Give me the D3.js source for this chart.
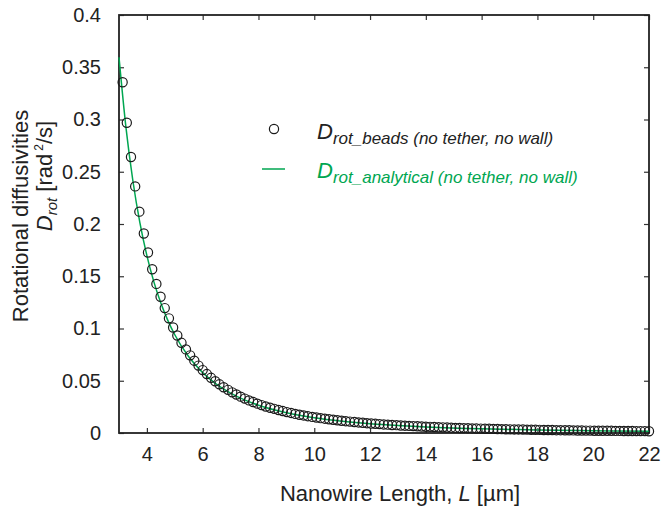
<!DOCTYPE html>
<html>
<head>
<meta charset="utf-8">
<script src="https://cdn.jsdelivr.net/npm/d3@7"></script>
<style>
body { margin: 0; background: #fff; }
text { font-family: "Liberation Sans", Arial, Helvetica, sans-serif; fill: #222; }
</style>
</head>
<body>
<script>
// bead model: nanowire length (um) and rotational diffusivity (rad^2/s)
const beadL = [
    3.13, 3.28, 3.43, 3.58, 3.73, 3.89, 4.04, 4.19, 4.34, 4.49,
    4.64, 4.79, 4.94, 5.09, 5.24, 5.40, 5.55, 5.70, 5.85, 6.00,
    6.15, 6.30, 6.45, 6.60, 6.75, 6.91, 7.06, 7.21, 7.36, 7.51,
    7.66, 7.81, 7.96, 8.11, 8.26, 8.42, 8.57, 8.72, 8.87, 9.02,
    9.17, 9.32, 9.47, 9.62, 9.77, 9.93, 10.08, 10.23, 10.38, 10.53,
    10.68, 10.83, 10.98, 11.13, 11.28, 11.44, 11.59, 11.74, 11.89, 12.04,
    12.19, 12.34, 12.49, 12.64, 12.79, 12.95, 13.10, 13.25, 13.40, 13.55,
    13.70, 13.85, 14.00, 14.15, 14.30, 14.46, 14.61, 14.76, 14.91, 15.06,
    15.21, 15.36, 15.51, 15.66, 15.81, 15.97, 16.12, 16.27, 16.42, 16.57,
    16.72, 16.87, 17.02, 17.17, 17.32, 17.48, 17.63, 17.78, 17.93, 18.08,
    18.23, 18.38, 18.53, 18.68, 18.83, 18.99, 19.14, 19.29, 19.44, 19.59,
    19.74, 19.89, 20.04, 20.19, 20.34, 20.50, 20.65, 20.80, 20.95, 21.10,
    21.25, 21.40, 21.55, 21.70, 21.85, 22.00
];
const beadD = [
    0.3356, 0.2969, 0.2641, 0.2360, 0.2118, 0.1909, 0.1727, 0.1567, 0.1427, 0.1304,
    0.1195, 0.1097, 0.1010, 0.0933, 0.0863, 0.0800, 0.0743, 0.0692, 0.0645, 0.0602,
    0.0564, 0.0528, 0.0495, 0.0466, 0.0438, 0.0413, 0.0389, 0.0368, 0.0348, 0.0329,
    0.0312, 0.0296, 0.0281, 0.0267, 0.0254, 0.0242, 0.0231, 0.0220, 0.0210, 0.0200,
    0.0192, 0.0183, 0.0175, 0.0168, 0.0161, 0.0154, 0.0148, 0.0142, 0.0137, 0.0132,
    0.0127, 0.0122, 0.0117, 0.0113, 0.0109, 0.0105, 0.0101, 0.0098, 0.0094, 0.0091,
    0.0088, 0.0085, 0.0082, 0.0080, 0.0077, 0.0075, 0.0072, 0.0070, 0.0068, 0.0066,
    0.0064, 0.0062, 0.0060, 0.0059, 0.0057, 0.0055, 0.0054, 0.0052, 0.0051, 0.0049,
    0.0048, 0.0047, 0.0046, 0.0044, 0.0043, 0.0042, 0.0041, 0.0040, 0.0039, 0.0038,
    0.0037, 0.0036, 0.0035, 0.0034, 0.0034, 0.0033, 0.0032, 0.0031, 0.0031, 0.0030,
    0.0029, 0.0029, 0.0028, 0.0027, 0.0027, 0.0026, 0.0026, 0.0025, 0.0024, 0.0024,
    0.0023, 0.0023, 0.0022, 0.0022, 0.0022, 0.0021, 0.0021, 0.0020, 0.0020, 0.0019,
    0.0019, 0.0019, 0.0018, 0.0018, 0.0018, 0.0017
];

// analytical curve
const lineL = [3.0, 3.25, 3.5, 3.75, 4.0, 4.25, 4.5, 4.75, 5.0, 5.5, 6.0, 6.5, 7.0, 7.5,
    8, 9, 10, 11, 12, 13, 14, 16, 18, 20, 22];
const lineD = [0.3596, 0.2922, 0.2409, 0.2011, 0.1697, 0.1446, 0.1244, 0.1078, 0.0940, 0.0729,
    0.0578, 0.0466, 0.0382, 0.0317, 0.0266, 0.0194, 0.0145, 0.0112, 0.0088, 0.0071,
    0.0058, 0.0040, 0.0029, 0.0022, 0.0017];

const xTicks = [4, 6, 8, 10, 12, 14, 16, 18, 20, 22];
const yTicks = [0, 0.05, 0.1, 0.15, 0.2, 0.25, 0.3, 0.35, 0.4];
const yTickLabels = ["0", "0.05", "0.1", "0.15", "0.2", "0.25", "0.3", "0.35", "0.4"];

const green = "#00a651";

const svg = d3.select("body")
    .append("svg")
    .attr("width", 663)
    .attr("height", 506);

const x = d3.scaleLinear().domain([3, 22]).range([119, 649]);
const y = d3.scaleLinear().domain([0, 0.4]).range([433, 15]);

// axes, ticks pointing inward
const gx = svg.append("g")
    .attr("transform", "translate(0,433)")
    .call(d3.axisBottom(x).tickValues(xTicks).tickSize(-5).tickPadding(14).tickFormat(d3.format("d")));
const gy = svg.append("g")
    .attr("transform", "translate(119,0)")
    .call(d3.axisLeft(y).tickValues(yTicks).tickSize(-5).tickPadding(18)
        .tickFormat((d, i) => yTickLabels[i]));
const gt = svg.append("g")
    .attr("transform", "translate(0,15)")
    .call(d3.axisTop(x).tickValues(xTicks).tickSize(-5).tickFormat(""));
const gr = svg.append("g")
    .attr("transform", "translate(649,0)")
    .call(d3.axisRight(y).tickValues(yTicks).tickSize(-5).tickFormat(""));

[gx, gy, gt, gr].forEach(g => {
    g.select(".domain").remove();
    g.selectAll(".tick line").attr("stroke", "#333").attr("stroke-width", 1.2);
    g.selectAll(".tick text").style("font-size", "20px").attr("fill", "#222");
});

svg.append("rect")
    .attr("x", 119).attr("y", 15)
    .attr("width", 530).attr("height", 418)
    .attr("fill", "none")
    .attr("stroke", "#222")
    .attr("stroke-width", 1.8);

// analytical line
svg.append("path")
    .datum(lineL.map((l, i) => [l, lineD[i]]))
    .attr("fill", "none")
    .attr("stroke", green)
    .attr("stroke-width", 1.5)
    .attr("d", d3.line().x(d => x(d[0])).y(d => y(d[1])).curve(d3.curveMonotoneX));

// bead model markers
svg.append("g")
    .selectAll("circle")
    .data(beadL.map((l, i) => [l, beadD[i]]))
    .join("circle")
    .attr("cx", d => x(d[0]))
    .attr("cy", d => y(d[1]))
    .attr("r", 4.6)
    .attr("fill", "none")
    .attr("stroke", "#1a1a1a")
    .attr("stroke-width", 1.2);

// axis titles
const xt = svg.append("text")
    .attr("x", 400).attr("y", 501)
    .attr("text-anchor", "middle")
    .style("font-size", "22px");
xt.append("tspan").text("Nanowire Length, ");
xt.append("tspan").style("font-style", "italic").text("L");
xt.append("tspan").text(" [\u00b5m]");

svg.append("text")
    .attr("transform", "translate(28,216) rotate(-90)")
    .attr("text-anchor", "middle")
    .style("font-size", "22px")
    .text("Rotational diffusivities");

const yt2 = svg.append("text")
    .attr("transform", "translate(52,176) rotate(-90)")
    .attr("text-anchor", "middle")
    .style("font-size", "22px");
yt2.append("tspan").style("font-style", "italic").text("D");
yt2.append("tspan").style("font-style", "italic").style("font-size", "15px").attr("dy", 5).text("rot");
yt2.append("tspan").attr("dy", -5).text(" [rad");
yt2.append("tspan").style("font-size", "12px").attr("dx", 3).attr("dy", -9).text("2");
yt2.append("tspan").attr("dy", 9).text("/s]");

// legend
const legend = svg.append("g");
legend.append("circle")
    .attr("cx", 274).attr("cy", 129).attr("r", 4.6)
    .attr("fill", "none").attr("stroke", "#1a1a1a").attr("stroke-width", 1.2);
legend.append("line")
    .attr("x1", 262).attr("x2", 285)
    .attr("y1", 169).attr("y2", 169)
    .attr("stroke", green).attr("stroke-width", 1.5);

const entries = [
    {main: "D", sub: "rot_beads (no tether, no wall)", color: "#222", y: 139},
    {main: "D", sub: "rot_analytical (no tether, no wall)", color: green, y: 178}
];
entries.forEach(e => {
    const t = legend.append("text")
        .attr("x", 317).attr("y", e.y)
        .style("font-style", "italic")
        .attr("fill", e.color)
        .style("fill", e.color);
    t.append("tspan").style("font-size", "22px").text(e.main);
    t.append("tspan").style("font-size", "17px").attr("dy", 5).text(e.sub);
});
</script>
</body>
</html>
